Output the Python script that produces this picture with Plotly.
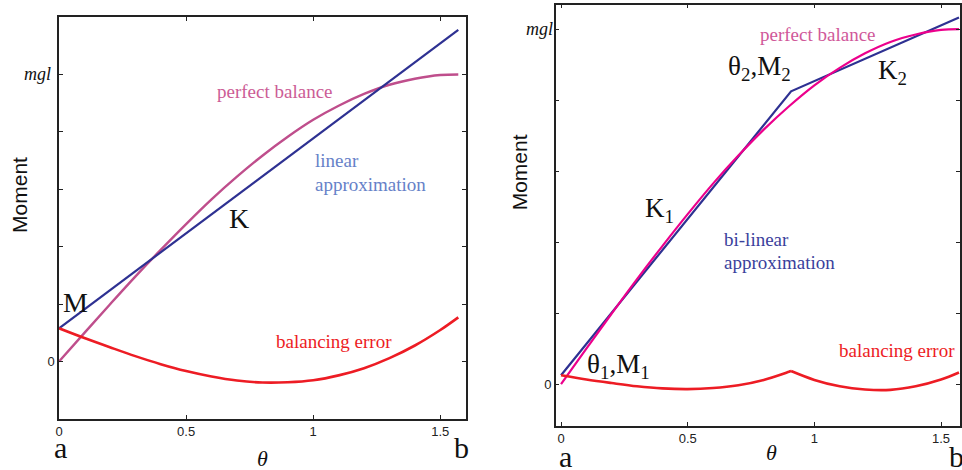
import plotly.graph_objects as go

# ---------------- data ----------------
theta = [0, 0.1, 0.2, 0.3, 0.4, 0.5, 0.6, 0.7, 0.8, 0.9, 1.0, 1.1, 1.2, 1.3, 1.4, 1.5, 1.5708]
perfect_balance = [0.0, 0.100, 0.199, 0.296, 0.389, 0.479, 0.565, 0.644, 0.717, 0.783,
                   0.842, 0.891, 0.932, 0.964, 0.985, 0.998, 1.0]

# left: linear approximation
lin_theta = [0, 1.5708]
lin_moment = [0.116, 1.155]
lin_error = [0.116, 0.082, 0.050, 0.019, -0.009, -0.033, -0.052, -0.066, -0.073, -0.072,
             -0.065, -0.048, -0.023, 0.012, 0.056, 0.110, 0.154]

# right: bi-linear approximation
bilin_theta = [0, 0.908, 1.5708]
bilin_moment = [0.025, 0.825, 1.033]
err2_theta = [0, 0.1, 0.2, 0.3, 0.4, 0.5, 0.6, 0.7, 0.8, 0.9, 0.908, 1.0, 1.1, 1.2, 1.3, 1.4, 1.5, 1.5708]
bilin_error = [0.025, 0.013, 0.003, -0.006, -0.012, -0.014, -0.011, -0.003, 0.012, 0.035, 0.037,
               0.012, -0.006, -0.015, -0.016, -0.006, 0.013, 0.033]
kink_index = 10  # position of theta_2 in err2_theta

x_ticks = [0, 0.5, 1, 1.5]
x_ticklabels = ["0", "0.5", "1", "1.5"]
y_ticks = [0]
y_ticklabels = ["0"]
y_minor_ticks = [0.2, 0.4, 0.6, 0.8, 1.0]

# ---------------- styles ----------------
NAVY = "#2E3192"
RED = "#ED1C24"
MAUVE = "#BF4E8C"
MAGENTA = "#EC008C"
SERIF = "Liberation Serif, Times New Roman, serif"
SANS = "Liberation Sans, Arial, sans-serif"

fig = go.Figure()

# left panel
fig.add_trace(go.Scatter(x=theta, y=perfect_balance, mode="lines", line_shape="spline",
                         line=dict(color=MAUVE, width=2.4), xaxis="x", yaxis="y"))
fig.add_trace(go.Scatter(x=lin_theta, y=lin_moment, mode="lines",
                         line=dict(color=NAVY, width=2.2), xaxis="x", yaxis="y"))
fig.add_trace(go.Scatter(x=theta, y=lin_error, mode="lines", line_shape="spline",
                         line=dict(color=RED, width=2.6), xaxis="x", yaxis="y"))

# right panel
fig.add_trace(go.Scatter(x=bilin_theta, y=bilin_moment, mode="lines",
                         line=dict(color=NAVY, width=2.2), xaxis="x2", yaxis="y2"))
fig.add_trace(go.Scatter(x=theta, y=perfect_balance, mode="lines", line_shape="spline",
                         line=dict(color=MAGENTA, width=2.2), xaxis="x2", yaxis="y2"))
fig.add_trace(go.Scatter(x=err2_theta[:kink_index + 1], y=bilin_error[:kink_index + 1],
                         mode="lines", line_shape="spline",
                         line=dict(color=RED, width=2.6), xaxis="x2", yaxis="y2"))
fig.add_trace(go.Scatter(x=err2_theta[kink_index:], y=bilin_error[kink_index:],
                         mode="lines", line_shape="spline",
                         line=dict(color=RED, width=2.6), xaxis="x2", yaxis="y2"))

axis_common = dict(showline=True, linecolor="#222222", linewidth=1.5, mirror="ticks",
                   ticks="inside", ticklen=4, tickcolor="#222222", showgrid=False,
                   zeroline=False, tickfont=dict(family=SANS, size=13, color="#222222"))
minor_y = dict(tickvals=y_minor_ticks, ticks="inside", ticklen=4, tickcolor="#222222",
               showgrid=False)

fig.update_layout(
    width=962, height=470,
    margin=dict(l=0, r=0, t=0, b=0),
    paper_bgcolor="white", plot_bgcolor="white",
    showlegend=False,
    xaxis=dict(domain=[0.0575, 0.4830], range=[0, 1.602], anchor="y",
               tickvals=x_ticks, ticktext=x_ticklabels, **axis_common),
    yaxis=dict(domain=[0.1085, 0.9638], range=[-0.2, 1.2], anchor="x",
               tickvals=y_ticks, ticktext=y_ticklabels, minor=minor_y, **axis_common),
    xaxis2=dict(domain=[0.5765, 0.9990], range=[-0.021, 1.575], anchor="y2",
                tickvals=x_ticks, ticktext=x_ticklabels, **axis_common),
    yaxis2=dict(domain=[0.0943, 0.99], range=[-0.117, 1.069], anchor="x2",
                tickvals=y_ticks, ticktext=y_ticklabels, minor=minor_y, **axis_common),
)

W, H = 962.0, 470.0

def P(px, py, text, size, color="#111111", family=SERIF, xanchor="center", angle=0):
    fig.add_annotation(text=text, x=px / W, y=1 - py / H, xref="paper", yref="paper",
                       xanchor=xanchor, yanchor="middle", showarrow=False, textangle=angle,
                       font=dict(family=family, size=size, color=color))

# ---- left panel labels ----
P(34, 74, "<i>mgl</i>", 18)
P(15, 195, "Moment", 21, "#111111", SANS, angle=-90)
P(272, 91, "perfect balance", 19, "#CC5C96")
P(311, 160, "linear", 19, "#6681C8", xanchor="left")
P(311, 184, "approximation", 19, "#6681C8", xanchor="left")
P(236, 218, "K", 28)
P(72, 302, "M", 28)
P(332, 341, "balancing error", 19, RED)
P(57, 447, "a", 30)
P(460, 447, "b", 30)
P(260, 458, "<i>θ</i>", 22)

# ---- right panel labels ----
P(538, 29, "<i>mgl</i>", 18)
P(518, 172, "Moment", 21, "#111111", SANS, angle=-90)
P(818, 34, "perfect balance", 19, "#D0589A")
P(759, 68, "θ<sub>2</sub>,M<sub>2</sub>", 27)
P(893, 72, "K<sub>2</sub>", 27)
P(659, 210, "K<sub>1</sub>", 27)
P(722, 239, "bi-linear", 19, "#3A3F9C", xanchor="left")
P(722, 262, "approximation", 19, "#3A3F9C", xanchor="left")
P(584, 366, "θ<sub>1</sub>,M<sub>1</sub>", 27, xanchor="left")
P(898, 350, "balancing error", 19, RED)
P(564, 456, "a", 30)
P(957, 456, "b", 30)
P(772, 452, "<i>θ</i>", 22)

fig.write_html("out.html", config={"displayModeBar": False},
               post_script="document.body.style.margin='0';")
